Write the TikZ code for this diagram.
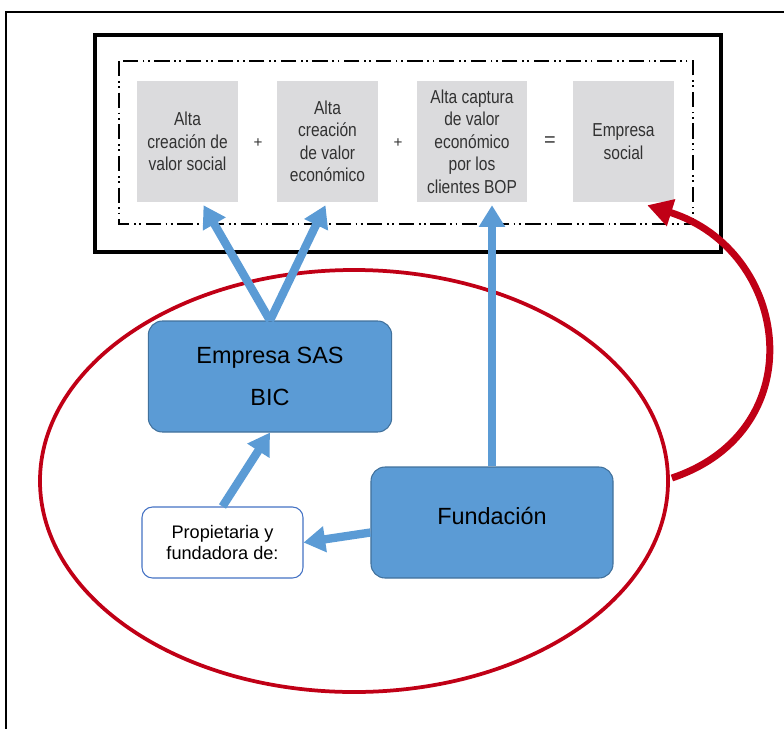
\documentclass[tikz,border=0pt]{standalone}
\usepackage{fontspec}
\setmainfont{Liberation Sans}
\newfontfamily\narrowfont[FakeStretch=0.83]{Liberation Sans}
\usepackage{xcolor}
\usepackage{tikz}
\usetikzlibrary{shapes.geometric,arrows.meta,positioning,calc}
\definecolor{boxgrey}{RGB}{219,219,221}
\definecolor{textgrey}{RGB}{50,50,50}
\definecolor{flowblue}{RGB}{91,155,213}
\definecolor{edgeblue}{RGB}{65,113,156}
\definecolor{propblue}{RGB}{68,114,196}
\definecolor{linkred}{RGB}{192,0,22}

\begin{document}
\begin{tikzpicture}[
    x=0.03cm, y=-0.03cm,
    part/.style={fill=boxgrey, minimum width=3.03cm, minimum height=3.63cm, align=center,
        inner sep=1pt, text=textgrey, font=\narrowfont\fontsize{16}{19.2}\selectfont},
    sign/.style={text=textgrey, font=\fontsize{13}{15}\selectfont},
    actor/.style={draw=edgeblue, fill=flowblue, rounded corners=12pt, line width=0.9pt,
        minimum width=7.3cm, minimum height=3.33cm, align=center},
    owner/.style={draw=propblue, fill=white, rounded corners=9pt, line width=0.9pt,
        minimum width=4.83cm, minimum height=2.13cm, align=center,
        font=\fontsize{15.5}{18.5}\selectfont},
    flow/.style={-{Triangle[length=6.5mm,width=7.5mm]}, line width=2.5mm, draw=flowblue},
    link/.style={-{Triangle[length=7.5mm,width=8mm]}, line width=2.1mm, draw=linkred}
]
    \useasboundingbox (0,0) rectangle (784,729);

    % Frame
    \draw[line width=0.9pt] (6,729) -- (6,12) -- (784,12);
    \draw[line width=4pt] (95,35) rectangle (721,252);
    \draw[line width=1.1pt, dash pattern=on 13pt off 4pt on 1.5pt off 3pt on 1.5pt off 4pt]
        (119,61) rectangle (693,224);

    % Equation
    \node[part] (social) at (187.5,141.5) {Alta\\creación de\\valor social};
    \node[part] (economic) at (327.5,141.5) {Alta\\creación\\de valor\\económico};
    \node[part, minimum width=3.3cm] (capture) at (472,141.5)
        {Alta captura\\de valor\\económico\\por los\\clientes BOP};
    \node[part] (result) at (623.5,141.5) {Empresa\\social};
    \node[sign] (plusa) at (258,143) {+};
    \node[sign] (plusb) at (398,143) {+};
    \node[sign, font=\fontsize{17}{17}\selectfont] (equals) at (550,142) {=};

    % Group
    \node[ellipse, draw=linkred, line width=3.2pt, inner sep=0pt,
        minimum width=18.84cm, minimum height=12.66cm] (group) at (354,481) {};

    % Entities
    \node[actor, font=\fontsize{20}{36}\selectfont] (sas) at (270,376.5) {Empresa SAS\\BIC};
    \node[actor, minimum width=7.26cm, font=\fontsize{20}{24}\selectfont] (fund) at (492,522.5)
        {Fundación\\[-12pt]};
    \node[owner] (prop) at (222.5,542.5) {Propietaria y\\fundadora de:};

    % Relationships
    \draw[flow] (sas.north) -- ($(social.south)+(16,3)$);
    \draw[flow] (sas.north) -- ($(economic.south)+(-2,3)$);
    \draw[flow] (fund.north) -- ($(fund.north |- capture.south)+(0,3)$);
    \draw[flow] (prop.north) -- (sas.south);
    \draw[flow] ($(fund.west)+(0,10)$) -- (prop.east);
    \draw[link] ($(group.east)+(2,-3)$) .. controls (815,430) and (790,250) .. ($(result.south east)+(-27,3)$);
\end{tikzpicture}
\end{document}
